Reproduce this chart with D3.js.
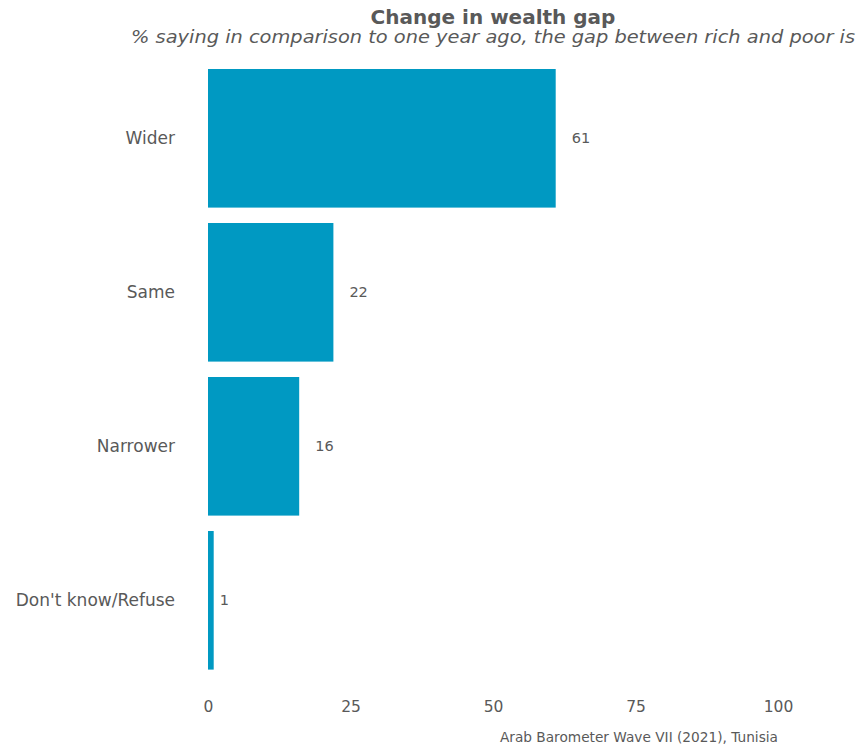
<!DOCTYPE html>
<html>
<head>
<meta charset="utf-8">
<script src="https://cdn.jsdelivr.net/npm/d3@7"></script>
<style>
  body { margin: 0; background: white; }
  text { font-family: "DejaVu Sans", "Noto Sans", sans-serif; }
</style>
</head>
<body>
<div id="viz-container"></div>
<script>
let vizWidth = 859;
let vizHeight = 748;

// data
let categories = ["Wider", "Same", "Narrower", "Don't know/Refuse"];
let values = [61, 22, 16, 1];
let xTicks = [0, 25, 50, 75, 100];

let titleText = "Change in wealth gap";
let subtitleText = "% saying in comparison to one year ago, the gap between rich and poor is";
let captionText = "Arab Barometer Wave VII (2021), Tunisia";

let barColor = "#0099c2";
let textColor = "#595959";
let fontName = "'DejaVu Sans', 'Noto Sans', sans-serif";

let viz = d3.select("#viz-container")
    .append("svg")
        .attr("width", vizWidth)
        .attr("height", vizHeight)
        .style("background-color", "white")
;

let xScale = d3.scaleLinear().domain([0, 100]).range([208, 778]);
let yScale = d3.scaleBand().domain(categories).range([53.6, 685]).padding(0.1);

// bars
viz.selectAll(".bar").data(categories).enter().append("rect")
    .attr("class", "bar")
    .attr("x", xScale(0))
    .attr("y", d => yScale(d))
    .attr("width", (d, i) => xScale(values[i]) - xScale(0))
    .attr("height", yScale.bandwidth())
    .attr("fill", barColor)
;

// value labels
viz.selectAll(".val").data(categories).enter().append("text")
    .attr("class", "val")
    .attr("x", (d, i) => xScale(values[i]) + (values[i] < 10 ? 6 : 16))
    .attr("y", d => yScale(d) + yScale.bandwidth() / 2)
    .attr("dy", "0.35em")
    .attr("font-size", 14.5)
    .attr("fill", textColor)
    .text((d, i) => values[i])
;

// y axis
let yAxis = viz.append("g")
    .attr("transform", "translate(" + (xScale(0) - 20) + ",0)")
    .call(d3.axisLeft(yScale).tickSize(0).tickPadding(13));
yAxis.select(".domain").remove();
yAxis.selectAll("text")
    .attr("font-size", 17)
    .attr("fill", textColor)
    .style("font-family", fontName);

// x axis
let xAxis = viz.append("g")
    .attr("transform", "translate(0,697)")
    .call(d3.axisBottom(xScale).tickValues(xTicks).tickSize(0).tickPadding(4));
xAxis.select(".domain").remove();
xAxis.selectAll("text")
    .attr("font-size", 15.5)
    .attr("fill", textColor)
    .style("font-family", fontName);

// titles
viz.append("text")
    .attr("x", 493).attr("y", 24)
    .attr("text-anchor", "middle")
    .attr("font-size", 20)
    .attr("font-weight", "bold")
    .attr("fill", textColor)
    .text(titleText);

viz.append("text")
    .attr("x", 493).attr("y", 43)
    .attr("text-anchor", "middle")
    .attr("font-size", 17)
    .attr("font-style", "italic")
    .attr("fill", textColor)
    .attr("textLength", 724)
    .attr("lengthAdjust", "spacingAndGlyphs")
    .text(subtitleText);

viz.append("text")
    .attr("x", 778).attr("y", 742)
    .attr("text-anchor", "end")
    .attr("font-size", 13.7)
    .attr("fill", textColor)
    .text(captionText);
</script>
</body>
</html>
